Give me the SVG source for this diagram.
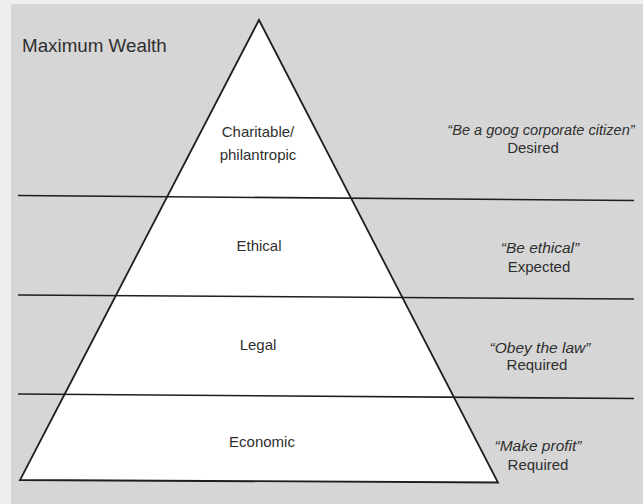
<svg xmlns="http://www.w3.org/2000/svg" width="643" height="504" viewBox="0 0 643 504">
  <style>
    .tier { fill: #ffffff; stroke: none; }
    .outline { fill: none; stroke: #1e1e1e; stroke-width: 1.8; stroke-linejoin: miter; }
    .divider { stroke: #1e1e1e; stroke-width: 1.6; fill: none; }
    .label { font-family: "Liberation Sans", Arial, sans-serif; font-size: 15px; fill: #2f2f2f; text-anchor: middle; }
    .motto { font-family: "Liberation Sans", Arial, sans-serif; font-size: 15.5px; font-style: italic; fill: #2f2f2f; text-anchor: middle; }
    .status { font-family: "Liberation Sans", Arial, sans-serif; font-size: 15px; fill: #2f2f2f; text-anchor: middle; }
    .title { font-family: "Liberation Sans", Arial, sans-serif; font-size: 18.8px; fill: #2f2f2f; }
  </style>

  <!-- page and shaded panel -->
  <rect x="0" y="0" width="643" height="504" fill="#eeeeee"/>
  <rect x="11" y="4" width="632" height="500" fill="#d6d6d6"/>

  <text class="title" x="22" y="52">Maximum Wealth</text>

  <!-- pyramid tiers, top to bottom -->
  <g id="tier-charitable">
    <polygon class="tier" points="259,20 167,196 351,196"/>
    <text class="label" x="258" y="137">Charitable/</text>
    <text class="label" x="258" y="160">philantropic</text>
  </g>
  <g id="tier-ethical">
    <polygon class="tier" points="167,196 351,196 402,297 116,297"/>
    <text class="label" x="259" y="251">Ethical</text>
  </g>
  <g id="tier-legal">
    <polygon class="tier" points="116,297 402,297 453,396 65,396"/>
    <text class="label" x="258" y="350">Legal</text>
  </g>
  <g id="tier-economic">
    <polygon class="tier" points="65,396 453,396 498,482 20,480"/>
    <text class="label" x="262" y="447">Economic</text>
  </g>

  <!-- pyramid outline -->
  <path class="outline" d="M259,20 L20,480 L498,482.5 Z"/>

  <!-- tier dividers running out to the right margin -->
  <g id="dividers">
    <line class="divider" x1="18" y1="195.5" x2="634" y2="200.5"/>
    <line class="divider" x1="18" y1="295" x2="634" y2="299"/>
    <line class="divider" x1="18" y1="394" x2="634" y2="398.5"/>
  </g>

  <!-- responsibility notes beside each tier -->
  <g id="note-charitable">
    <text class="motto" x="541" y="135" style="font-size:14.6px">“Be a goog corporate citizen”</text>
    <text class="status" x="533" y="153">Desired</text>
  </g>
  <g id="note-ethical">
    <text class="motto" x="540" y="253">“Be ethical”</text>
    <text class="status" x="539" y="272">Expected</text>
  </g>
  <g id="note-legal">
    <text class="motto" x="540" y="353">“Obey the law”</text>
    <text class="status" x="537" y="370">Required</text>
  </g>
  <g id="note-economic">
    <text class="motto" x="538" y="451">“Make profit”</text>
    <text class="status" x="538" y="469.5">Required</text>
  </g>
</svg>
